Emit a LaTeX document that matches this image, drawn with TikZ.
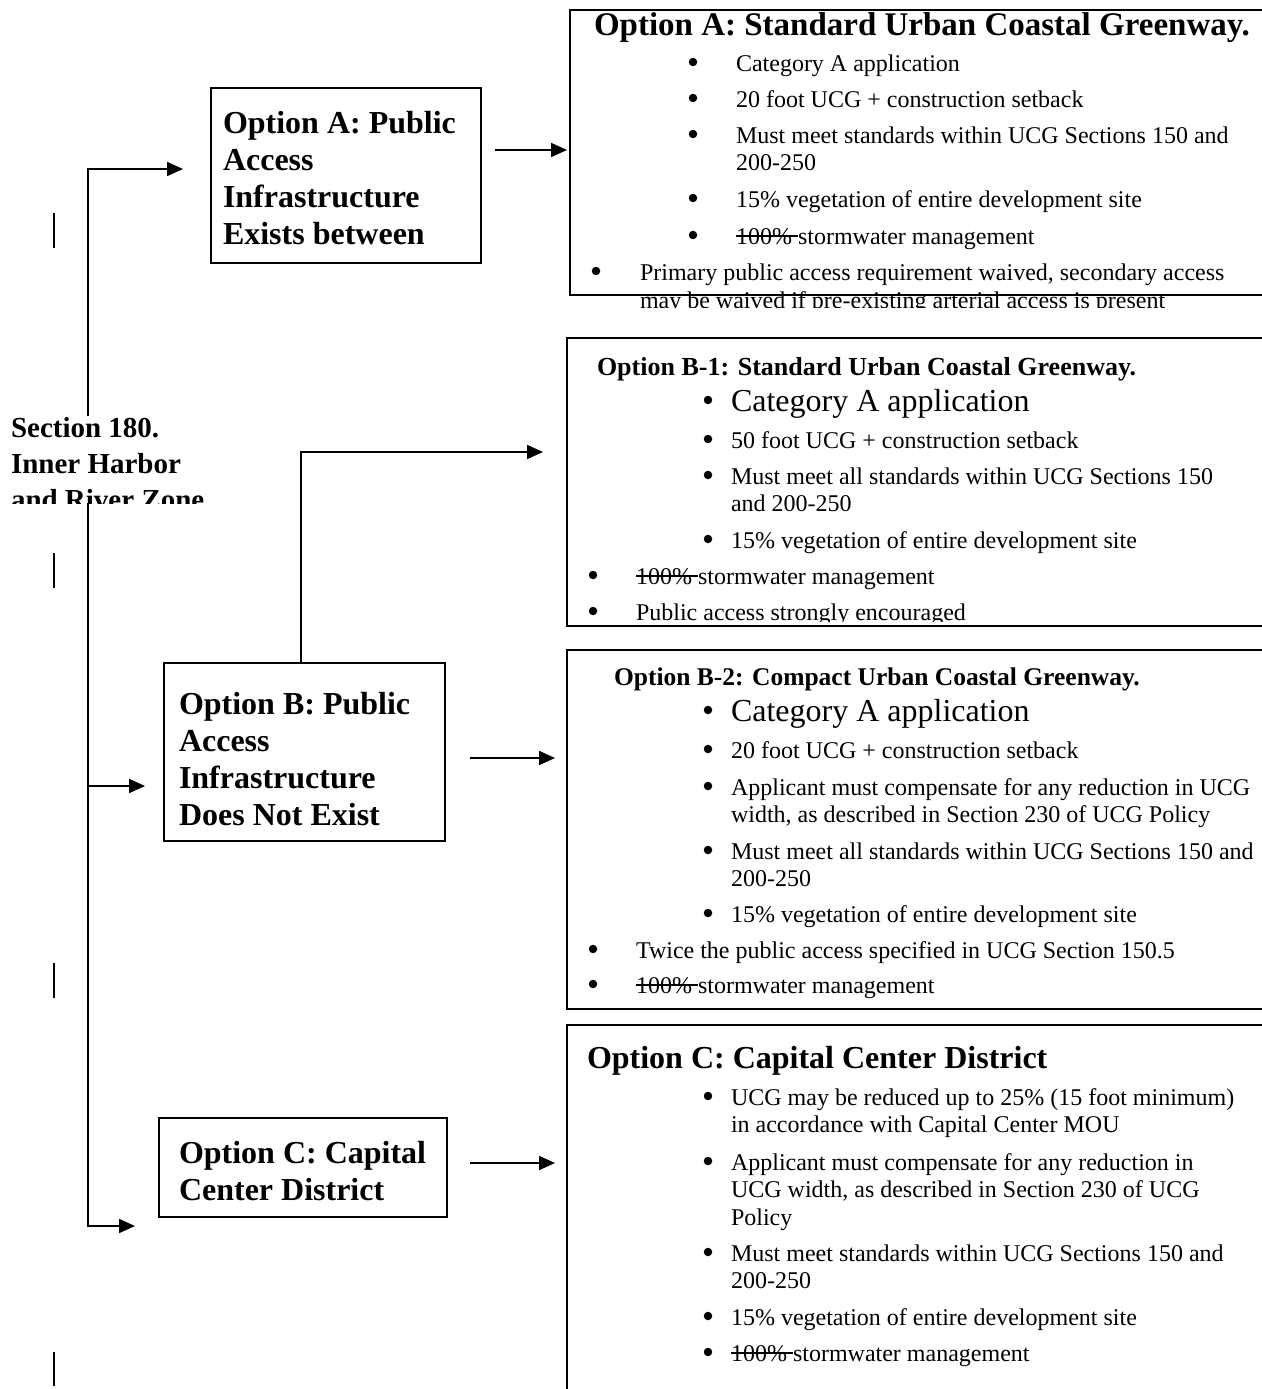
\documentclass[tikz,border=0pt]{standalone}
\usepackage{fontspec}
\setmainfont{Liberation Serif}
\usetikzlibrary{arrows.meta}
\newcommand\strikeit[1]{\setbox0=\hbox{#1}\rlap{\rule[0.3em]{\wd0}{1.4pt}}\box0}
\begin{document}
\begin{tikzpicture}[x=1pt,y=-1pt,
  every node/.style={inner sep=0pt, outer sep=0pt},
  frame/.style={draw, line width=1.8pt, anchor=north west},
  conn/.style={line width=1.8pt},
  arr/.style={conn, -{Triangle[length=16pt,width=14pt]}},
  ltext/.style={align=left, anchor=west, font=\bfseries\fontsize{32}{37}\selectfont},
  sectext/.style={align=left, anchor=north west, font=\bfseries\fontsize{29}{36}\selectfont},
  body/.style={anchor=base west, font=\fontsize{24}{27.6}\selectfont},
  bigbody/.style={anchor=base west, font=\fontsize{32}{36}\selectfont},
  bul/.style={circle, fill, minimum size=8.5pt},
  ttlL/.style={anchor=base west, font=\bfseries\fontsize{33}{38}\selectfont},
  ttlC/.style={anchor=base west, font=\bfseries\fontsize{32}{37}\selectfont},
  ttlM/.style={anchor=base west, font=\bfseries\fontsize{26}{30}\selectfont},
  ttlS/.style={anchor=base west, font=\bfseries\fontsize{25.5}{30}\selectfont}
]
\useasboundingbox (0,0) rectangle (1261,1389);
\fill[white] (0,0) rectangle (1261,1389);

% ---------- left trunk ----------
\coordinate (t0) at (88,169);
\coordinate (t1) at (88,786);
\coordinate (t2) at (88,1226);
\coordinate (ea) at (183,169);
\coordinate (eb) at (145,786);
\coordinate (ec) at (135,1226);
\draw[conn, {Triangle[length=16pt,width=14pt]}-{Triangle[length=16pt,width=14pt]}] (ec) -- (t2) -- (t0) -- (ea);
\draw[arr] (t1) -- (eb);

% stray bars
\draw[conn] (54,213) -- (54,248);
\draw[conn] (54,553) -- (54,588);
\draw[conn] (54,963) -- (54,998);
\draw[conn] (54,1352) -- (54,1386);

% ---------- section label ----------
\begin{scope}
  \clip (0,416) rectangle (215,503);
  \fill[white] (0,416) rectangle (215,503);
  \node[sectext] (sec) at (11,417) {Section 180.\\Inner Harbor\\and River Zone};
\end{scope}

% ---------- left boxes ----------
\node[frame, minimum width=270pt, minimum height=175pt] (la) at (211,88) {};
\node[ltext] (laT) at (223,178) {Option A: Public\\Access\\Infrastructure\\Exists between};

\node[frame, minimum width=281pt, minimum height=178pt] (lb) at (164,663) {};
\node[ltext] (lbT) at (179,759.5) {Option B: Public\\Access\\Infrastructure\\Does Not Exist};

\node[frame, minimum width=288pt, minimum height=99pt] (lc) at (159,1118) {};
\node[ltext] (lcT) at (179,1171.5) {Option C: Capital\\Center District};

% ---------- right boxes ----------
\node[frame, minimum width=720pt, minimum height=285pt] (ra) at (570,10) {};
\node[frame, minimum width=720pt, minimum height=288pt] (rb1) at (567,338) {};
\node[frame, minimum width=720pt, minimum height=359pt] (rb2) at (567,650) {};
\node[frame, minimum width=720pt, minimum height=420pt] (rc) at (567,1025) {};

% ---------- arrows to right boxes ----------
\coordinate (aA0) at (495,150);
\coordinate (aA1) at (567,150);
\draw[arr] (aA0) -- (aA1);
\coordinate (b1s) at (301,663);
\coordinate (b1c) at (301,452);
\coordinate (b1e) at (543,452);
\draw[arr] (b1s) -- (b1c) -- (b1e);
\coordinate (b2s) at (470,758);
\coordinate (b2e) at (555,758);
\draw[arr] (b2s) -- (b2e);
\coordinate (cs) at (470,1163);
\coordinate (ce) at (555,1163);
\draw[arr] (cs) -- (ce);

% ---------- box A text ----------
\begin{scope}
  \clip (572,12) rectangle (1261,307);
  \node[ttlL] (a0) at (594,36) {Option A: Standard Urban Coastal Greenway.};
  \node[bul] (ab1) at (693,62) {};
  \node[body] (a1) at (736,71) {Category A application};
  \node[bul] (ab2) at (693,98) {};
  \node[body] (a2) at (736,107) {20 foot UCG + construction setback};
  \node[bul] (ab3) at (693,134) {};
  \node[body] (a3) at (736,143) {Must meet standards within UCG Sections 150 and};
  \node[body] (a3b) at (736,170) {200-250};
  \node[bul] (ab4) at (693,198) {};
  \node[body] (a4) at (736,207) {15\% vegetation of entire development site};
  \node[bul] (ab5) at (693,235) {};
  \node[body] (a5) at (736,244) {\strikeit{100\% }stormwater management};
  \node[bul] (ab6) at (596,271) {};
  \node[body] (a6) at (640,280) {Primary public access requirement waived, secondary access};
  \node[body] (a6b) at (640,308) {may be waived if pre-existing arterial access is present};
\end{scope}

% ---------- box B-1 text ----------
\begin{scope}
  \clip (569,340) rectangle (1261,621);
  \node[ttlM] (p0) at (597,375) {Option B-1: Standard Urban Coastal Greenway.};
  \node[bul] (pb1) at (708,400) {};
  \node[bigbody] (p1) at (731,411) {Category A application};
  \node[bul] (pb2) at (708,439) {};
  \node[body] (p2) at (731,448) {50 foot UCG + construction setback};
  \node[bul] (pb3) at (708,475) {};
  \node[body] (p3) at (731,484) {Must meet all standards within UCG Sections 150};
  \node[body] (p3b) at (731,511) {and 200-250};
  \node[bul] (pb4) at (708,539) {};
  \node[body] (p4) at (731,548) {15\% vegetation of entire development site};
  \node[bul] (pb5) at (593,575) {};
  \node[body] (p5) at (636,584) {\strikeit{100\% }stormwater management};
  \node[bul] (pb6) at (593,611) {};
  \node[body] (p6) at (636,620) {Public access strongly encouraged};
\end{scope}

% ---------- box B-2 text ----------
\begin{scope}
  \clip (569,652) rectangle (1261,1007);
  \node[ttlS] (q0) at (614,685) {Option B-2: Compact Urban Coastal Greenway.};
  \node[bul] (qb1) at (708,710) {};
  \node[bigbody] (q1) at (731,721) {Category A application};
  \node[bul] (qb2) at (708,749) {};
  \node[body] (q2) at (731,758) {20 foot UCG + construction setback};
  \node[bul] (qb3) at (708,786) {};
  \node[body] (q3) at (731,795) {Applicant must compensate for any reduction in UCG};
  \node[body] (q3b) at (731,822) {width, as described in Section 230 of UCG Policy};
  \node[bul] (qb4) at (708,850) {};
  \node[body] (q4) at (731,859) {Must meet all standards within UCG Sections 150 and};
  \node[body] (q4b) at (731,886) {200-250};
  \node[bul] (qb5) at (708,913) {};
  \node[body] (q5) at (731,922) {15\% vegetation of entire development site};
  \node[bul] (qb6) at (593,949) {};
  \node[body] (q6) at (636,958) {Twice the public access specified in UCG Section 150.5};
  \node[bul] (qb7) at (593,984) {};
  \node[body] (q7) at (636,993) {\strikeit{100\% }stormwater management};
\end{scope}

% ---------- box C text ----------
\begin{scope}
  \clip (569,1027) rectangle (1261,1389);
  \node[ttlC] (c0) at (587,1068) {Option C: Capital Center District};
  \node[bul] (cb1) at (708,1096) {};
  \node[body] (c1) at (731,1105) {UCG may be reduced up to 25\% (15 foot minimum)};
  \node[body] (c1b) at (731,1132) {in accordance with Capital Center MOU};
  \node[bul] (cb2) at (708,1161) {};
  \node[body] (c2) at (731,1170) {Applicant must compensate for any reduction in};
  \node[body] (c2b) at (731,1197) {UCG width, as described in Section 230 of UCG};
  \node[body] (c2c) at (731,1225) {Policy};
  \node[bul] (cb3) at (708,1252) {};
  \node[body] (c3) at (731,1261) {Must meet standards within UCG Sections 150 and};
  \node[body] (c3b) at (731,1288) {200-250};
  \node[bul] (cb4) at (708,1316) {};
  \node[body] (c4) at (731,1325) {15\% vegetation of entire development site};
  \node[bul] (cb5) at (708,1352) {};
  \node[body] (c5) at (731,1361) {\strikeit{100\% }stormwater management};
\end{scope}
\end{tikzpicture}
\end{document}
